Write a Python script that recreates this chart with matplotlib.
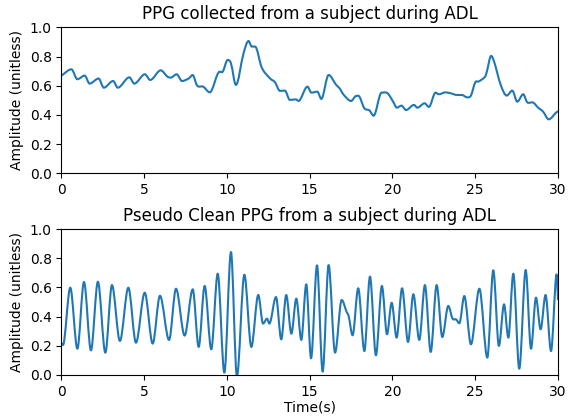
import numpy as np
import matplotlib
matplotlib.use("Agg")
import matplotlib.pyplot as plt
from matplotlib.path import Path
from matplotlib.patches import PathPatch

# PPG during ADL (turning points)
raw_t = [0.0, 0.6, 0.96, 1.4, 1.7, 2.24, 2.56, 3.12, 3.4, 4.1, 4.4, 5.04, 5.36,
         6.0, 6.4, 6.6, 6.96, 7.28, 7.7, 7.92, 8.2, 8.56, 8.96, 9.56, 9.7,
         10.04, 10.24, 10.54, 11.0, 11.3, 11.5, 11.7, 12.1, 12.6, 12.9, 13.2,
         13.5, 13.8, 14.16, 14.32, 14.86, 15.1, 15.46, 15.7, 16.14, 16.6,
         16.8, 17.06, 17.5, 17.8, 18.0, 18.3, 18.6, 18.86, 19.34, 19.7, 20.06,
         20.26, 20.54, 20.82, 21.3, 21.5, 21.94, 22.2, 22.6, 22.8, 23.2, 23.5,
         23.9, 24.2, 24.5, 24.74, 25.0, 25.2, 25.6, 25.7, 25.96, 26.14, 26.54,
         26.9, 27.24, 27.54, 27.9, 28.14, 28.5, 28.8, 29.1, 29.44, 29.9, 30.0]
raw_ppg = [0.67, 0.713, 0.645, 0.67, 0.615, 0.65, 0.587, 0.633, 0.587, 0.658,
           0.615, 0.679, 0.64, 0.706, 0.663, 0.656, 0.679, 0.633, 0.651, 0.674,
           0.601, 0.594, 0.555, 0.697, 0.693, 0.777, 0.754, 0.606, 0.823,
           0.907, 0.869, 0.869, 0.725, 0.651, 0.624, 0.565, 0.567, 0.503,
           0.507, 0.496, 0.594, 0.553, 0.56, 0.51, 0.674, 0.606, 0.583, 0.537,
           0.496, 0.53, 0.526, 0.446, 0.432, 0.395, 0.553, 0.549, 0.487, 0.45,
           0.464, 0.434, 0.469, 0.45, 0.48, 0.455, 0.553, 0.542, 0.555, 0.549,
           0.537, 0.537, 0.521, 0.533, 0.624, 0.629, 0.663, 0.697, 0.805,
           0.766, 0.606, 0.533, 0.567, 0.491, 0.542, 0.487, 0.485, 0.45, 0.423,
           0.37, 0.418, 0.423]

# pseudo clean PPG (peaks / troughs)
clean_t = [0.0, 0.09, 0.53, 0.96, 1.36, 1.78, 2.2, 2.65, 3.05, 3.53, 4.04, 4.5,
           5.03, 5.51, 5.95, 6.5, 6.92, 7.44, 7.93, 8.29, 8.65, 9.05, 9.44,
           9.84, 10.24, 10.6, 11.05, 11.47, 11.89, 12.18, 12.42, 12.56, 12.96,
           13.28, 13.58, 13.89, 14.19, 14.49, 14.79, 15.08, 15.44, 15.78,
           16.14, 16.53, 16.93, 17.23, 17.35, 17.59, 17.93, 18.3, 18.64, 19.0,
           19.36, 19.67, 19.95, 20.25, 20.58, 20.94, 21.26, 21.62, 21.96,
           22.31, 22.67, 23.01, 23.37, 23.63, 23.84, 24.04, 24.34, 24.74,
           25.25, 25.73, 26.09, 26.43, 26.74, 27.0, 27.3, 27.66, 28.05, 28.37,
           28.67, 28.95, 29.25, 29.58, 29.92, 30.0]
clean_ppg = [0.215, 0.205, 0.598, 0.18, 0.637, 0.169, 0.639, 0.153, 0.616,
             0.233, 0.598, 0.221, 0.564, 0.215, 0.543, 0.24, 0.591, 0.27,
             0.587, 0.192, 0.61, 0.176, 0.694, 0.016, 0.842, -0.01, 0.687,
             0.192, 0.548, 0.352, 0.386, 0.352, 0.534, 0.244, 0.548, 0.283,
             0.523, 0.24, 0.621, 0.114, 0.751, 0.023, 0.753, 0.153, 0.514,
             0.432, 0.404, 0.272, 0.594, 0.164, 0.674, 0.135, 0.61, 0.279,
             0.495, 0.256, 0.594, 0.226, 0.553, 0.24, 0.616, 0.158, 0.616,
             0.26, 0.473, 0.386, 0.381, 0.354, 0.541, 0.21, 0.591, 0.119,
             0.717, 0.199, 0.484, 0.256, 0.694, 0.043, 0.719, 0.18, 0.53,
             0.313, 0.548, 0.164, 0.689, 0.52]


def smooth_curve(ax, xs, ys, color="#1f77b4", lw=1.5):
    # cubic bezier through the knots, flat at turning points
    xs = np.asarray(xs, float)
    ys = np.asarray(ys, float)
    n = len(xs)
    slope = np.zeros(n)
    for i in range(1, n - 1):
        if (ys[i] - ys[i - 1]) * (ys[i + 1] - ys[i]) > 0:
            slope[i] = (ys[i + 1] - ys[i - 1]) / (xs[i + 1] - xs[i - 1])
    slope[0] = (ys[1] - ys[0]) / (xs[1] - xs[0])
    slope[-1] = (ys[-1] - ys[-2]) / (xs[-1] - xs[-2])
    verts = [(xs[0], ys[0])]
    codes = [Path.MOVETO]
    for i in range(n - 1):
        h = (xs[i + 1] - xs[i]) / 3.0
        verts += [(xs[i] + h, ys[i] + h * slope[i]),
                  (xs[i + 1] - h, ys[i + 1] - h * slope[i + 1]),
                  (xs[i + 1], ys[i + 1])]
        codes += [Path.CURVE4] * 3
    patch = PathPatch(Path(verts, codes), facecolor="none", edgecolor=color,
                      lw=lw, capstyle="projecting", joinstyle="round")
    ax.add_patch(patch)


fig = plt.figure(figsize=(5.72, 4.16), dpi=100)
ax1 = fig.add_axes([0.1075, 0.5834, 0.868, 0.3506])
ax2 = fig.add_axes([0.1075, 0.0986, 0.868, 0.3509])

smooth_curve(ax1, raw_t, raw_ppg)
ax1.set_xlim(0, 30)
ax1.set_ylim(0, 1)
ax1.set_title("PPG collected from a subject during ADL")
ax1.set_ylabel("Amplitude (unitless)")

smooth_curve(ax2, clean_t, clean_ppg)
ax2.set_xlim(0, 30)
ax2.set_ylim(0, 1)
ax2.set_title("Pseudo Clean PPG from a subject during ADL")
ax2.set_ylabel("Amplitude (unitless)")
ax2.set_xlabel("Time(s)", labelpad=1)

fig.savefig("out.png", dpi=100)
